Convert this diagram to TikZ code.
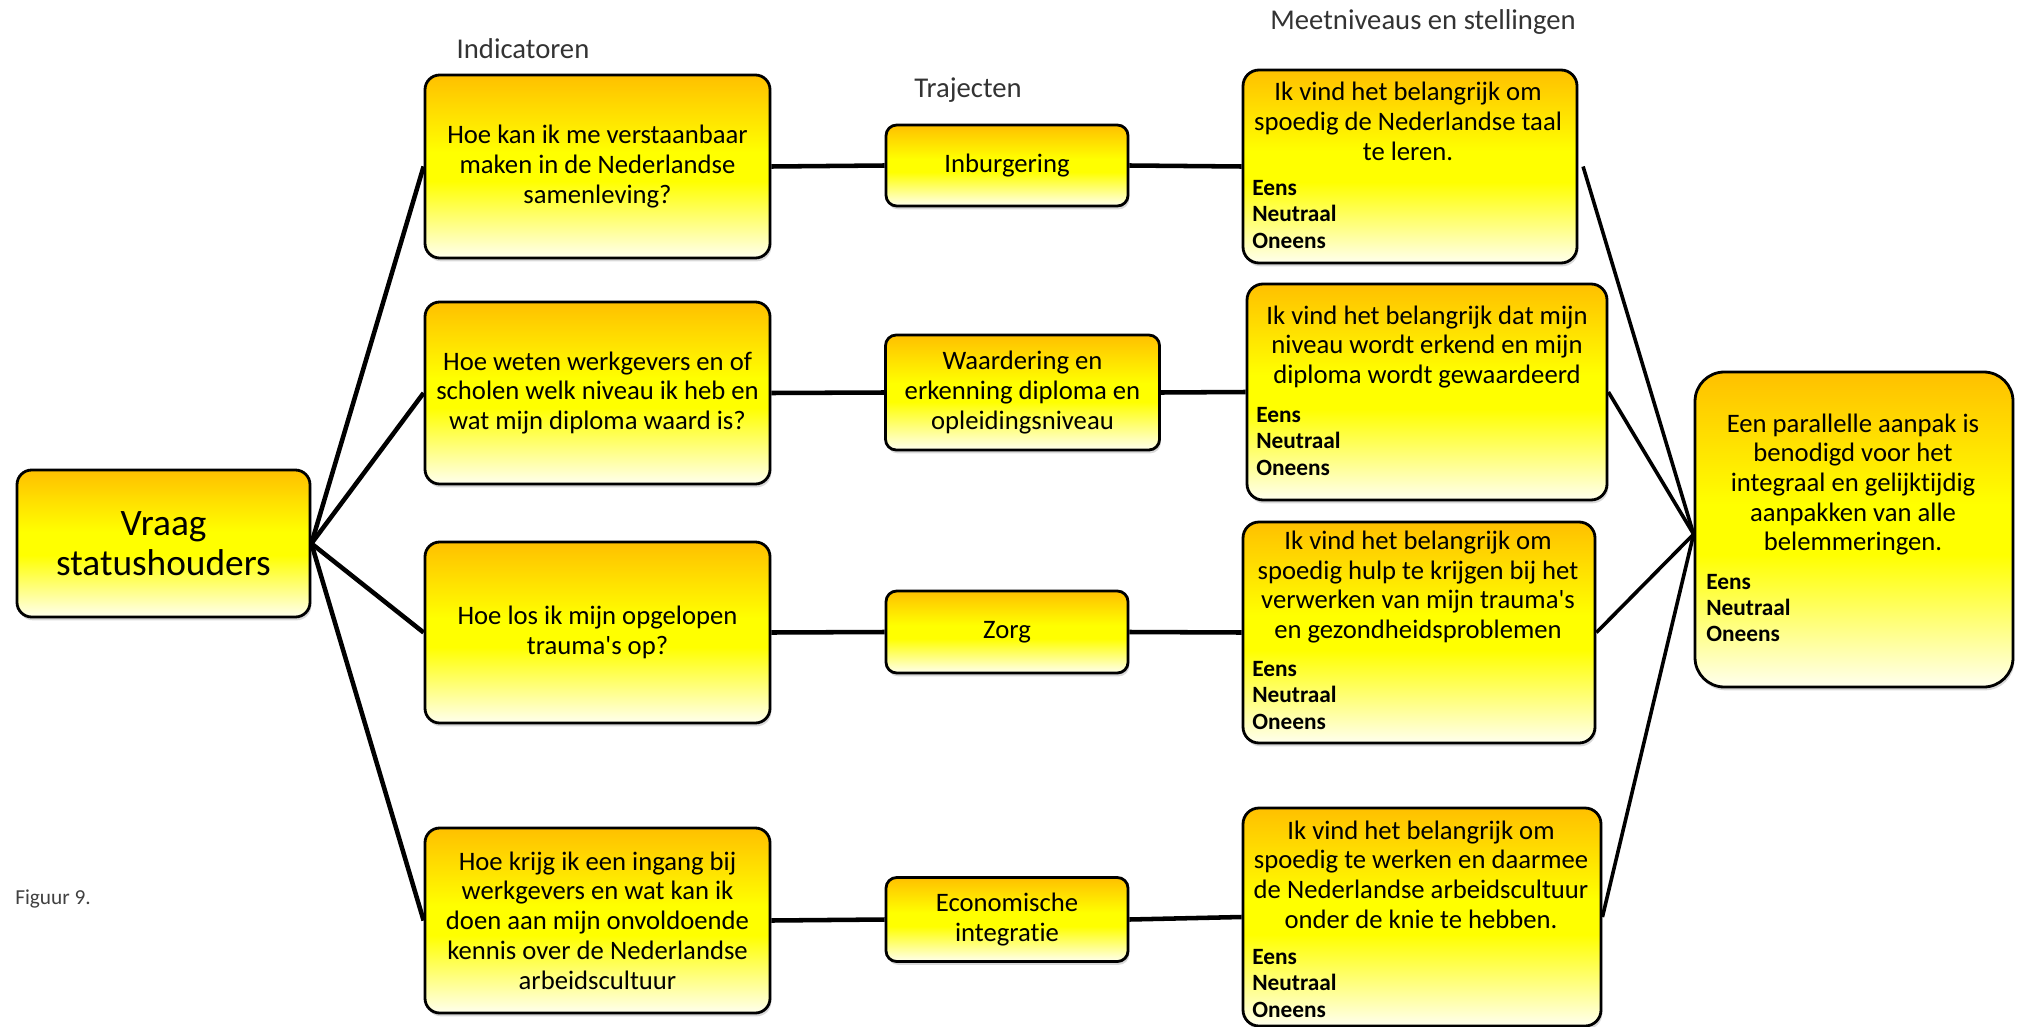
\documentclass[tikz,border=0pt]{standalone}
\usepackage{fontspec}
\setmainfont{Carlito}[Ligatures=NoCommon]
\usetikzlibrary{shadows}
\definecolor{boxtop}{HTML}{FFC000}
\definecolor{boxmid}{HTML}{FFFF00}
\definecolor{boxbot}{HTML}{FFFFEE}
% orange at the top, a lemon band in the middle, fading to cream below
\pgfdeclareverticalshading{panelshade}{100bp}{%
  color(0bp)=(boxbot); color(25bp)=(boxbot); color(46bp)=(boxmid);
  color(54bp)=(boxmid); color(75bp)=(boxtop); color(100bp)=(boxtop)}
\begin{document}
\begin{tikzpicture}[
  x=0.75pt, y=-0.75pt,
  panel/.style={draw=black, line width=2.1pt, rounded corners=11pt,
    shading=panelshade,
    drop shadow={opacity=0.3, shadow xshift=1pt, shadow yshift=-2.5pt},
    inner sep=0pt, align=center, text=black},
  dims/.style 2 args={minimum width=#1*0.75pt, minimum height=#2*0.75pt},
  body/.style={font=\fontsize{20}{22.3}\selectfont},
  stmt/.style={body, align=center, inner sep=0pt},
  answers/.style={font=\fontsize{17.5}{19.8}\selectfont\bfseries, align=left, anchor=west, inner sep=0pt},
  heading/.style={font=\fontsize{21.5}{24}\selectfont, text=black!80, inner sep=0pt},
  link/.style={line width=3.4pt, black},
  thinlink/.style={line width=2.7pt, black}
]
\useasboundingbox (0,0) rectangle (2022,1027);

% root question
\node[panel, dims={293}{147}, font=\fontsize{28}{30}\selectfont] (vraag) at (163.5,543.5) {Vraag\\statushouders};

% indicators
\node[panel, body, dims={345}{183}] (i1) at (597.5,166.5) {Hoe kan ik me verstaanbaar\\maken in de Nederlandse\\samenleving?};
\node[panel, body, dims={345}{182}] (i2) at (597.5,393) {Hoe weten werkgevers en of\\scholen welk niveau ik heb en\\wat mijn diploma waard is?};
\node[panel, body, dims={345}{181}] (i3) at (597.5,632.5) {Hoe los ik mijn opgelopen\\trauma\textquotesingle s op?};
\node[panel, body, dims={345}{185}] (i4) at (597.5,920.5) {Hoe krijg ik een ingang bij\\werkgevers en wat kan ik\\doen aan mijn onvoldoende\\kennis over de Nederlandse\\arbeidscultuur};

% trajectories
\node[panel, body, rounded corners=8pt, dims={242}{81}] (t1) at (1007,165.5) {Inburgering};
\node[panel, body, rounded corners=8pt, dims={274}{115}] (t2) at (1022.5,392.5) {Waardering en\\erkenning diploma en\\opleidingsniveau};
\node[panel, body, rounded corners=8pt, dims={242}{82}] (t3) at (1007,632) {Zorg};
\node[panel, body, rounded corners=8pt, dims={242}{84}] (t4) at (1007,919.5) {Economische\\integratie};

% statements with answer scale
\node[panel, rounded corners=12pt, dims={334}{193}] (m1) at (1410,166.5) {};
\node[panel, rounded corners=12pt, dims={360}{216}] (m2) at (1427,392) {};
\node[panel, rounded corners=12pt, dims={352}{221}] (m3) at (1419,632.5) {};
\node[panel, rounded corners=12pt, dims={358}{218}] (m4) at (1422,917) {};

\node[stmt] (m1s) at (1408,121.5) {Ik vind het belangrijk om\\spoedig de Nederlandse taal\\te leren.};
\node[answers] (m1a) at (1252,214.5) {Eens\\Neutraal\\Oneens};
\node[stmt] (m2s) at (1427,347) {Ik vind het belangrijk dat mijn\\niveau wordt erkend en mijn\\diploma wordt gewaardeerd};
\node[answers] (m2a) at (1256,441.5) {Eens\\Neutraal\\Oneens};
\node[stmt] (m3s) at (1418,587) {Ik vind het belangrijk om\\spoedig hulp te krijgen bij het\\verwerken van mijn trauma\textquotesingle s\\en gezondheidsproblemen};
\node[answers] (m3a) at (1252,695.5) {Eens\\Neutraal\\Oneens};
\node[stmt] (m4s) at (1421,874.5) {Ik vind het belangrijk om\\spoedig te werken en daarmee\\de Nederlandse arbeidscultuur\\onder de knie te hebben.};
\node[answers] (m4a) at (1252,983.5) {Eens\\Neutraal\\Oneens};

% overall statement
\node[panel, rounded corners=22pt, dims={318}{315}] (final) at (1854,529.5) {};
\node[stmt] (fs) at (1853,484.5) {Een parallelle aanpak is\\benodigd voor het\\integraal en gelijktijdig\\aanpakken van alle\\belemmeringen.};
\node[answers] (fa) at (1706,608) {Eens\\Neutraal\\Oneens};

% column headings and caption
\node[heading] (hind) at (523,49) {Indicatoren};
\node[heading] (htraj) at (968,90) {Trajecten};
\node[heading] (hmeet) at (1423,22) {Meetniveaus en stellingen};
\node[font=\fontsize{16}{19}\selectfont, text=black!75, anchor=west, inner sep=0pt] (cap) at (15,899) {Figuur 9.};

% connectors
\foreach \n in {i1,i2,i3,i4} \draw[link] (vraag.east) -- (\n.west);
\foreach \a/\b/\c in {i1/t1/m1, i2/t2/m2, i3/t3/m3, i4/t4/m4} {
  \draw[link] (\a.east) -- (\b.west);
  \draw[link] (\b.east) -- (\c.west);
}
\coordinate (join) at ([yshift=-3.5pt]final.west);
\draw[thinlink] ([xshift=3.5pt]m1.east) -- (join);
\foreach \n in {m2,m3,m4} \draw[thinlink] (\n.east) -- (join);
\end{tikzpicture}
\end{document}
